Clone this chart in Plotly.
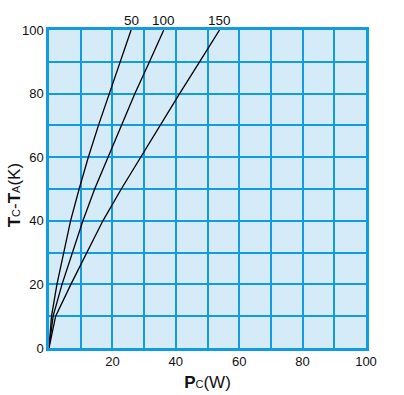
import plotly.graph_objects as go

temp_rise = [0, 10, 20, 30, 40, 50, 60, 70, 80, 90, 100]
pc_50 = [0, 0.8, 2.5, 4.6, 6.8, 9.5, 12.4, 15.6, 19.0, 22.5, 25.9]
pc_100 = [0, 1.3, 4.1, 7.5, 10.7, 14.4, 18.7, 22.8, 27.1, 31.7, 36.2]
pc_150 = [0, 2.1, 6.9, 12.0, 17.0, 22.8, 28.9, 35.0, 41.2, 47.5, 53.8]
series = [("50", pc_50), ("100", pc_100), ("150", pc_150)]

x_ticks = [0, 10, 20, 30, 40, 50, 60, 70, 80, 90, 100]
x_ticktext = ["", "", "20", "", "40", "", "60", "", "80", "", "100"]
y_ticks = [0, 10, 20, 30, 40, 50, 60, 70, 80, 90, 100]
y_ticktext = ["0", "", "20", "", "40", "", "60", "", "80", "", "100"]

BLUE = "#119be2"
BG = "#d5ebf8"
FONT = "Liberation Sans, Arial, sans-serif"

fig = go.Figure()
for name, xs in series:
    fig.add_trace(go.Scatter(x=xs, y=temp_rise, mode="lines", name=name,
                             line=dict(color="black", width=1.3),
                             showlegend=False, hoverinfo="skip"))
    fig.add_annotation(x=xs[-1], y=temp_rise[-1], text=name, showarrow=False,
                       yanchor="bottom", yshift=0, xref="x", yref="y",
                       font=dict(family=FONT, size=13.5, color="#111"))

axis_common = dict(showgrid=True, gridcolor=BLUE, gridwidth=1.5, automargin=False,
                   showline=True, linecolor=BLUE, linewidth=2.5, mirror=True,
                   zeroline=False, ticks="", tickfont=dict(family=FONT, size=13, color="#111"))

fig.update_xaxes(range=[0, 100], tickmode="array", tickvals=x_ticks, ticktext=x_ticktext,
                 title=dict(text="<b>P</b><span style='font-size:11px'>C</span>(W)",
                            font=dict(family=FONT, size=17, color="#111"), standoff=8),
                 **axis_common)
fig.update_yaxes(range=[0, 100], tickmode="array", tickvals=y_ticks, ticktext=y_ticktext,
                 **axis_common)

fig.add_annotation(text="<b>T</b><span style='font-size:11px'>C</span>-<b>T</b><span style='font-size:11px'>A</span>(K)",
                   xref="paper", yref="paper", x=0, y=0.48, xshift=-35, textangle=-90,
                   showarrow=False, xanchor="center", yanchor="middle",
                   font=dict(family=FONT, size=17, color="#111"))

fig.update_layout(width=404, height=395, margin=dict(l=49, r=38, t=30, b=47),
                  plot_bgcolor=BG, paper_bgcolor="white")

fig.write_html("out.html")
